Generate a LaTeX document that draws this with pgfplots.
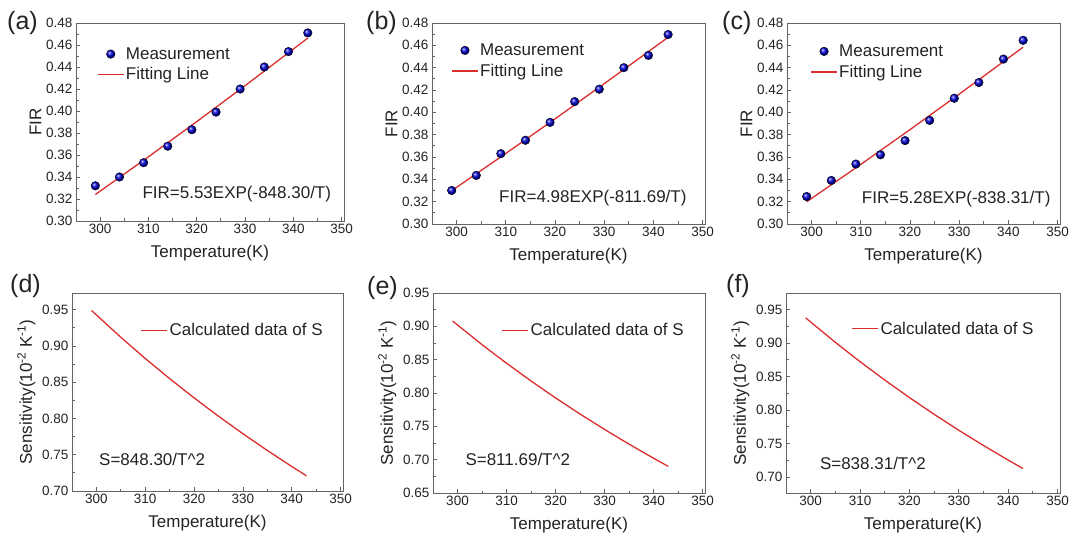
\documentclass[border=0pt]{standalone}
\usepackage{fontspec}
\setmainfont{Liberation Sans}
\usepackage{pgfplots}
\pgfplotsset{compat=1.18}
\definecolor{fitred}{RGB}{220,45,45}
\definecolor{axgray}{RGB}{100,100,100}
\definecolor{txt}{RGB}{35,35,35}
\pgfplotsset{
  base/.style={
    scale only axis,
    xmin=295, xmax=350.5,
    xtick={300,310,...,350},
    minor x tick num=1, minor y tick num=1,
    axis line style={axgray, line width=0.9pt},
    tick style={axgray, line width=0.8pt},
    tick align=inside,
    xtick pos=bottom, ytick pos=left,
    major tick length=4pt, minor tick length=2.5pt,
    /pgf/number format/assume math mode=true,
    ticklabel style={font=\fontsize{13.5}{14}\selectfont, text=txt},
    xticklabel style={/pgf/number format/1000 sep={}},
    yticklabel style={/pgf/number format/fixed, /pgf/number format/fixed zerofill, /pgf/number format/precision=2},
    label style={font=\fontsize{17}{18}\selectfont, text=txt},
    xlabel={Temperature(K)},
    xlabel style={yshift=-4pt},
    clip=false,
    legend style={draw=none, fill=none, font=\fontsize{17}{18}\selectfont, text=txt, anchor=north west, row sep=4pt, inner sep=0pt, nodes={inner sep=1.5pt}},
    legend cell align=left,
  },
  toprow/.style={base, ymin=0.30, ymax=0.48, ytick={0.30,0.32,...,0.481}, ylabel={FIR},
    ylabel style={yshift=-2pt}},
  botrow/.style={base, ylabel={Sensitivity(10\textsuperscript{-2} K\textsuperscript{-1})}},
  meas/.style={only marks, mark=ball, ball color=blue!85!black, mark size=4.3pt,
    legend image code/.code={\draw[only marks, mark=ball, ball color=blue!85!black, mark size=4.3pt] plot coordinates {(13pt,0pt)};}},
  fitl/.style={fitred, line width=1.3pt, no marks,
    legend image code/.code={\draw[fitred, line width=1.3pt] (0pt,0pt) -- (26pt,0pt);}},
}
\newcommand{\eqfont}{\fontsize{17}{18}\selectfont\color{txt}}
\begin{document}
\begin{tikzpicture}
\useasboundingbox (0,0) rectangle (1075pt,536pt);
% (a)
\begin{axis}[toprow, at={(76pt,315pt)}, anchor=south west, width=268pt, height=198pt,
  legend style={at={(0.078,0.885)}}]
\addplot[meas] coordinates {(299,0.332) (304,0.340) (309,0.353) (314,0.368) (319,0.383) (324,0.399) (329,0.420) (334,0.440) (339,0.454) (343,0.471)};
\addlegendentry{Measurement}
\addplot[fitl] coordinates {(299,0.32402) (310,0.35834) (320,0.39034) (330,0.42298) (343,0.46627)};
\addlegendentry{Fitting Line}
\node[font=\eqfont] at (axis cs:328.3,0.3240) {FIR=5.53EXP(-848.30/T)};
\end{axis}
% (b)
\begin{axis}[toprow, at={(432pt,312pt)}, anchor=south west, width=273pt, height=201pt,
  legend style={at={(0.07,0.905)}}]
\addplot[meas] coordinates {(299,0.330) (304,0.3435) (309,0.363) (314,0.375) (319,0.391) (324,0.4096) (329,0.4207) (334,0.440) (339,0.451) (343,0.4697)};
\addlegendentry{Measurement}
\addplot[fitl] coordinates {(299,0.32981) (310,0.36316) (320,0.39412) (330,0.42561) (343,0.46719)};
\addlegendentry{Fitting Line}
\node[font=\eqfont] at (axis cs:327.7,0.3236) {FIR=4.98EXP(-811.69/T)};
\end{axis}
% (c)
\begin{axis}[toprow, at={(787pt,312pt)}, anchor=south west, width=273pt, height=201pt,
  legend style={at={(0.085,0.90)}}]
\addplot[meas] coordinates {(299,0.3246) (304,0.339) (309,0.3537) (314,0.362) (319,0.3747) (324,0.3928) (329,0.4126) (334,0.4267) (339,0.4477) (343,0.4645)};
\addlegendentry{Measurement}
\addplot[fitl] coordinates {(299,0.31989) (310,0.35335) (320,0.38451) (330,0.41627) (343,0.45835)};
\addlegendentry{Fitting Line}
\node[font=\eqfont] at (axis cs:329.4,0.322) {FIR=5.28EXP(-838.31/T)};
\end{axis}
% (d)
\begin{axis}[botrow, at={(72pt,45pt)}, anchor=south west, width=271pt, height=198pt,
  ymin=0.70, ymax=0.973, ytick={0.70,0.75,...,0.951},
  legend style={at={(0.253,0.854)}}]
\addplot[fitl] coordinates {(299,0.94887) (305,0.91190) (310,0.88273) (315,0.85493) (320,0.82842) (325,0.80312) (330,0.77897) (335,0.75589) (340,0.73382) (343,0.72104)};
\addlegendentry{Calculated data of S}
\node[font=\eqfont] at (axis cs:311.4,0.744) {S=848.30/T\^{}2};
\end{axis}
% (e)
\begin{axis}[botrow, at={(433pt,43pt)}, anchor=south west, width=272pt, height=200pt,
  ymin=0.65, ymax=0.95, ytick={0.65,0.70,...,0.951},
  legend style={at={(0.252,0.857)}}]
\addplot[fitl] coordinates {(299,0.90792) (305,0.87255) (310,0.84463) (315,0.81803) (320,0.79267) (325,0.76846) (330,0.74535) (335,0.72327) (340,0.70215) (343,0.68993)};
\addlegendentry{Calculated data of S}
\node[font=\eqfont] at (axis cs:312.3,0.700) {S=811.69/T\^{}2};
\end{axis}
% (f)
\begin{axis}[botrow, at={(786pt,43pt)}, anchor=south west, width=274pt, height=200pt,
  ymin=0.676, ymax=0.975, ytick={0.70,0.75,...,0.951},
  legend style={at={(0.239,0.865)}}]
\addplot[fitl] coordinates {(299,0.93770) (305,0.90117) (310,0.87233) (315,0.84486) (320,0.81866) (325,0.79366) (330,0.76980) (335,0.74699) (340,0.72518) (343,0.71255)};
\addlegendentry{Calculated data of S}
\node[font=\eqfont] at (axis cs:312.6,0.720) {S=838.31/T\^{}2};
\end{axis}
% panel labels
\node[anchor=west, font=\fontsize{25}{26}\selectfont, text=txt, inner sep=0pt] at (7pt,513pt) {(a)};
\node[anchor=west, font=\fontsize{25}{26}\selectfont, text=txt, inner sep=0pt] at (366pt,513pt) {(b)};
\node[anchor=west, font=\fontsize{25}{26}\selectfont, text=txt, inner sep=0pt] at (722pt,513pt) {(c)};
\node[anchor=west, font=\fontsize{25}{26}\selectfont, text=txt, inner sep=0pt] at (10pt,250pt) {(d)};
\node[anchor=west, font=\fontsize{25}{26}\selectfont, text=txt, inner sep=0pt] at (367pt,248pt) {(e)};
\node[anchor=west, font=\fontsize{25}{26}\selectfont, text=txt, inner sep=0pt] at (726pt,250pt) {(f)};
\end{tikzpicture}
\end{document}
